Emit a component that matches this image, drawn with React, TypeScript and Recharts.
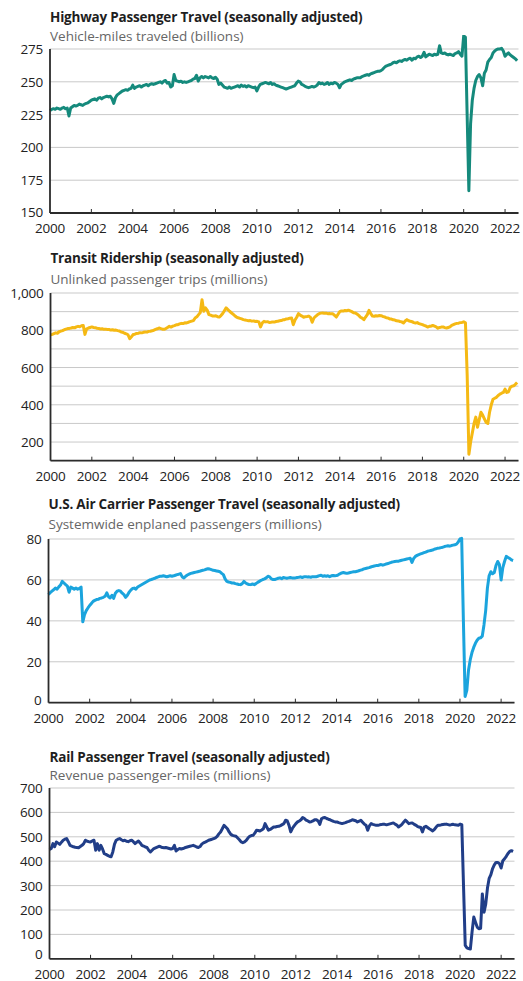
import { LineChart, Line, XAxis, YAxis, CartesianGrid } from 'recharts'

// monthly values, Jan 2000 .. Aug 2022
const highway = [
  228, 229, 229.5, 229, 230, 229.5, 229, 230, 230.5, 229.5, 230, 224,
  230, 231, 232, 231.5, 232, 233, 232.5, 232, 233, 233.5, 234, 235,
  236, 236.5, 237, 236, 237.5, 238, 237, 238, 238.5, 239, 238.5, 239,
  237, 233.5, 238, 240, 241, 242, 243, 243.5, 244, 243.5, 244.5, 245,
  247.5, 245, 246, 246.5, 247, 246, 247, 247.5, 248, 247, 248, 248.5,
  248, 248.5, 249, 249.5, 250, 249, 250.5, 251, 249, 249.5, 246, 247,
  255.5, 251, 250.5, 250, 250.5, 249.5, 250, 249.5, 250, 250.5, 251, 252,
  252.5, 255, 250.5, 253, 254, 253, 254, 253.5, 253, 254, 253, 252.5,
  253.5, 252, 248, 249, 247.5, 246, 245.5, 245, 246, 245, 245.5, 246,
  246.5, 247, 246, 247.5, 246.5, 247, 246, 247, 246.5, 246, 245.5, 246,
  243, 246, 248, 248.5, 249, 249.5, 249, 248.5, 249.5, 248, 248.5, 247.5,
  247, 246.5, 246, 245.5, 245, 244.5, 245, 245.5, 246, 246.5, 247, 249,
  250.5, 250, 248, 247.5, 246.5, 246, 245.5, 246, 246.5, 246, 246.5, 247.5,
  249.5, 248.5, 249, 248, 248.5, 249.5, 248, 249, 248.5, 249.5, 249, 248,
  245.5, 248, 249, 250, 250.5, 251, 251.5, 251, 252, 252.5, 253, 253,
  253, 254, 254.5, 255, 255.5, 255, 256, 256.5, 257, 257.5, 258, 258,
  258.5, 259.5, 261, 262, 262.5, 263, 263.5, 264.5, 265, 264.5, 265.5, 266,
  265.5, 266.5, 267, 266.5, 267.5, 268, 266.5, 268, 267.5, 269, 269.5, 268.5,
  269.5, 272.5, 269, 270, 271, 270.5, 270, 271, 270.5, 271, 277.5, 272,
  271.5, 272, 271, 270.5, 271, 270.5, 270, 271.5, 272, 273, 271, 269.5,
  285, 284, 225, 167, 218, 236, 245, 251, 254, 255.5, 253, 247,
  256.5, 259, 265, 267, 268.5, 272, 273.5, 274.5, 275, 275, 275.5, 273.5,
  269.5, 271, 272, 270.5, 269.5, 268.5, 267.5, 266,
]

const transit = [
  775, 778, 782, 786, 784, 792, 795, 798, 803, 806, 809, 810,
  812, 815, 813, 818, 821, 819, 824, 826, 778, 808, 812, 815,
  818, 815, 814, 811, 810, 807, 808, 805, 806, 804, 804, 801,
  803, 800, 801, 798, 796, 791, 789, 784, 781, 776, 755, 765,
  777, 779, 783, 784, 787, 786, 789, 791, 790, 794, 795, 797,
  800, 805, 808, 812, 809, 806, 805, 809, 815, 821, 817, 822,
  825, 829, 830, 834, 837, 836, 840, 839, 843, 846, 849, 852,
  866, 872, 884, 895, 964, 902, 920, 908, 884, 881, 877, 876,
  878, 873, 871, 879, 890, 905, 920, 911, 902, 894, 886, 878,
  871, 867, 864, 861, 857, 855, 853, 851, 852, 849, 850, 847,
  848, 845, 818, 840, 848, 845, 846, 842, 843, 845, 844, 847,
  848, 851, 852, 856, 857, 861, 862, 865, 866, 830, 855, 870,
  889, 881, 876, 870, 873, 874, 876, 869, 843, 866, 875, 883,
  889, 892, 893, 891, 892, 889, 890, 888, 888, 880, 871, 886,
  900, 904, 903, 906, 905, 908, 904, 900, 894, 893, 887, 880,
  870, 865, 857, 871, 884, 907, 889, 876, 875, 878, 877, 879,
  878, 874, 872, 867, 866, 861, 860, 856, 855, 851, 850, 847,
  845, 839, 850, 857, 851, 848, 846, 841, 839, 841, 836, 833,
  830, 826, 823, 817, 821, 822, 826, 822, 818, 811, 815, 817,
  818, 814, 812, 815, 818, 826, 830, 834, 837, 838, 841, 842,
  845, 840, 560, 135, 200, 250, 300, 334, 280, 320, 360, 345,
  325, 305, 300, 360, 400, 430, 435, 440, 450, 457, 462, 466,
  484, 466, 470, 493, 500, 502, 510, 520,
]

const air = [
  52.8, 53.8, 54.5, 55.2, 56, 55.5, 56.6, 57.5, 59.3, 58.5, 57.7, 57,
  54, 56.5, 56, 55.5, 56, 55.5, 55.8, 56.5, 39.5, 43, 45, 46.3,
  47.5, 48.5, 49.5, 50, 50.4, 50.5, 51, 51.2, 51.5, 52, 53.7, 51.8,
  51.2, 52.5, 51, 53.5, 54.5, 54.8, 54.5, 53.5, 52.8, 51.5, 52.5, 54,
  55, 55.8, 56, 55.5, 56.5, 57, 57.5, 58, 58.5, 59, 59.5, 60,
  60.2, 60.5, 60.8, 61.2, 61.5, 61.8, 61.8, 62, 61.8, 61.5, 61.8, 62,
  61.8, 62, 62.3, 62.6, 62.8, 63.1, 61.5, 61, 61.8, 62.4, 62.8, 63.2,
  63.4, 63.6, 63.8, 64, 64.2, 64.5, 64.7, 64.9, 65.2, 65.5, 65.3, 65,
  64.7, 64.6, 64.4, 64.2, 64, 63.2, 62.6, 60.5, 59.3, 59, 58.8, 58.5,
  58.5, 58.2, 58, 57.8, 57.7, 58.2, 59.3, 58.5, 58, 57.8, 57.7, 58,
  57.7, 58.2, 58.8, 59.3, 59.8, 60.2, 60.5, 61, 61.8, 61.5, 60.5, 60.2,
  60.2, 60.5, 60.8, 61, 60.6, 61.2, 61, 60.8, 61, 61.2, 61, 61,
  61, 61.2, 61.3, 61.5, 61.2, 61.5, 61.6, 61.4, 61.5, 61.3, 61.6, 61.5,
  61.5, 61.8, 62.1, 62.3, 61.8, 62, 61.8, 62, 61.6, 62, 62.2, 62,
  62.1, 62.5, 63, 63.4, 63.6, 63.4, 63.2, 63.4, 63.6, 63.8, 64, 64,
  64.2, 64.5, 64.8, 65, 65.4, 65.6, 65.8, 66, 66.3, 66.6, 66.8, 67,
  67, 67.3, 67.5, 67.2, 67.5, 67.8, 68, 68.3, 68.6, 68.8, 69, 69.1,
  69.1, 69.4, 69.6, 69.8, 70, 70.2, 70.4, 70.6, 68.6, 70.5, 71.5, 72,
  72.4, 72.7, 73, 73.3, 73.6, 74, 74.2, 74.4, 74.6, 75, 75.2, 75.5,
  75.6, 75.8, 76, 76.3, 76.5, 76.7, 76.5, 76.8, 77, 77.2, 77.5, 78.5,
  80, 80.3, 40, 3, 6, 16, 21, 24.5, 27, 29, 30.5, 31.5,
  31.7, 32.5, 38, 45, 56, 62, 64, 63, 63.6, 67, 69, 67.5,
  60, 66, 69, 71.5, 71, 70.5, 69.8, 69.5,
]

const rail = [
  448, 452, 472, 459, 479, 474, 469, 478, 486, 490, 493, 480,
  465, 462, 459, 457, 456, 455, 460, 465, 472, 486, 482, 480,
  479, 483, 486, 445, 472, 445, 465, 450, 431, 428, 424, 420,
  418, 438, 470, 486, 490, 493, 488, 484, 486, 482, 480, 484,
  486, 480, 472, 478, 483, 475, 465, 462, 458, 456, 445, 438,
  445, 452, 455, 458, 461, 459, 456, 455, 456, 454, 452, 450,
  452, 465, 442, 448, 452, 450, 452, 455, 457, 459, 461, 463,
  465, 462, 458, 456, 460, 470, 475, 478, 482, 486, 488, 490,
  493, 496, 502, 512, 520, 533, 547, 540, 533, 520, 510, 506,
  504, 502, 495, 488, 479, 476, 479, 485, 495, 502, 505, 506,
  515, 527, 526, 524, 528, 533, 554, 540, 527, 530, 535, 540,
  540, 542, 543, 546, 550, 554, 568, 565, 547, 520, 535, 545,
  554, 561, 565, 570, 579, 575, 568, 565, 561, 562, 565, 570,
  570, 565, 551, 574, 578, 579, 575, 572, 570, 566, 563, 561,
  561, 558, 556, 554, 556, 558, 561, 563, 566, 570, 568, 566,
  561, 564, 568, 560, 552, 547, 527, 545, 554, 551, 549, 547,
  547, 549, 550, 552, 551, 549, 551, 553, 555, 557, 552, 548,
  540, 545, 551, 560, 568, 562, 554, 556, 557, 552, 548, 543,
  540, 538, 520, 540, 543, 538, 533, 529, 524, 530, 540, 547,
  547, 549, 550, 551, 552, 550, 548, 550, 551, 549, 548, 547,
  552, 550, 300, 55, 45, 42, 40, 110, 171, 150, 130, 123,
  125, 266, 191, 225, 290, 330, 345, 370, 385, 395, 395, 390,
  372, 402, 410, 420, 432, 440, 443, 440,
]

const yearTicks = [2000, 2002, 2004, 2006, 2008, 2010, 2012, 2014, 2016, 2018, 2020, 2022]
const highwayTicks = [150, 175, 200, 225, 250, 275]
const transitTicks = [100, 200, 300, 400, 500, 600, 700, 800, 900, 1000]
const transitLabels = [200, 400, 600, 800, 1000]
const airTicks = [0, 20, 40, 60, 80]
const railTicks = [0, 100, 200, 300, 400, 500, 600, 700]

const font = '"Open Sans", "Noto Sans", sans-serif'
const axisColor = '#2b2b2b'
const tickStyle = { fontFamily: font, fontSize: 13.5, fill: '#222', letterSpacing: -0.2 }

function toRows(values: number[]) {
  return values.map((v, i) => ({ t: 2000 + i / 12, v }))
}

interface PanelProps {
  title: string
  subtitle: string
  values: number[]
  color: string
  domain: [number, number]
  ticks: number[]
  labels?: number[]
  titleY: number
  subY: number
  plotTop: number
  plotBottom: number
  plotLeft: number
  plotRight: number
  zeroShift?: number
}

function Panel(p: PanelProps) {
  const padTop = 14
  const padBottom = 30
  const height = p.plotBottom - p.plotTop + padTop + padBottom
  const labels = p.labels ?? p.ticks

  const xTick = ({ x, y, payload }: any) => (
    <g>
      {payload.value !== 2000 && <line x1={x} x2={x} y1={y} y2={y - 4} stroke={axisColor} strokeWidth={1} />}
      <text x={x} y={y + 15} textAnchor="middle" dominantBaseline="central" style={tickStyle}>{payload.value}</text>
    </g>
  )

  const yTick = ({ x, y, payload }: any) => {
    if (!labels.includes(payload.value)) return <g />
    const shift = payload.value === p.domain[0] ? (p.zeroShift ?? 0) : 0
    return (
      <text x={x} y={y + shift} textAnchor="end" dominantBaseline="central" style={tickStyle}>
        {payload.value.toLocaleString('en-US')}
      </text>
    )
  }

  return (
    <>
      <div style={{ position: 'absolute', left: p.plotLeft, top: p.titleY - 10, lineHeight: '20px', fontFamily: font, fontSize: 13.5, fontWeight: 700, color: '#1e1e1e', letterSpacing: -0.2, whiteSpace: 'nowrap' }}>
        {p.title}
      </div>
      <div style={{ position: 'absolute', left: p.plotLeft, top: p.subY - 10, lineHeight: '20px', fontFamily: font, fontSize: 13.5, color: '#666', whiteSpace: 'nowrap' }}>
        {p.subtitle}
      </div>
      <div style={{ position: 'absolute', left: 0, top: p.plotTop - padTop }}>
        <LineChart width={523} height={height} data={toRows(p.values)}
          margin={{ top: padTop, right: 523 - p.plotRight, bottom: padBottom - 20, left: 0 }}>
          <CartesianGrid vertical={false} stroke="#c9c9c9" strokeWidth={1} />
          <XAxis dataKey="t" type="number" domain={[2000, 2022.65]} ticks={yearTicks} interval={0}
            allowDataOverflow height={20} tickSize={0} tickMargin={0} tick={xTick}
            axisLine={{ stroke: axisColor, strokeWidth: 1.8 }} tickLine={false} />
          <YAxis type="number" domain={p.domain} ticks={p.ticks} interval={0} allowDataOverflow
            width={p.plotLeft} tickSize={0} tickMargin={7} tick={yTick}
            axisLine={{ stroke: axisColor, strokeWidth: 1.8 }} tickLine={false} />
          <Line dataKey="v" type="linear" stroke={p.color} strokeWidth={3} dot={false}
            strokeLinejoin="round" isAnimationActive={false} />
        </LineChart>
      </div>
    </>
  )
}

export default function App() {
  return (
    <div style={{ position: 'absolute', left: 0, top: 0, width: 523, height: 981, background: '#fff' }}>
      <style>{'.recharts-wrapper [clip-path]{clip-path:none !important}'}</style>
      <Panel title="Highway Passenger Travel (seasonally adjusted)" subtitle="Vehicle-miles traveled (billions)"
        values={highway} color="#158a7c" domain={[150, 275]} ticks={highwayTicks}
        titleY={17} subY={36} plotTop={49.3} plotBottom={213.3} plotLeft={50} plotRight={518.5} zeroShift={-1} />
      <Panel title="Transit Ridership (seasonally adjusted)" subtitle="Unlinked passenger trips (millions)"
        values={transit} color="#f5b914" domain={[100, 1000]} ticks={transitTicks} labels={transitLabels}
        titleY={258} subY={279} plotTop={293.3} plotBottom={461} plotLeft={50.5} plotRight={518.5} />
      <Panel title="U.S. Air Carrier Passenger Travel (seasonally adjusted)" subtitle="Systemwide enplaned passengers (millions)"
        values={air} color="#1ba4dd" domain={[0, 80]} ticks={airTicks}
        titleY={504} subY={524} plotTop={539.3} plotBottom={703} plotLeft={48.5} plotRight={514.5} zeroShift={-3} />
      <Panel title="Rail Passenger Travel (seasonally adjusted)" subtitle="Revenue passenger-miles (millions)"
        values={rail} color="#213e88" domain={[0, 700]} ticks={railTicks}
        titleY={757} subY={775} plotTop={787.5} plotBottom={958.3} plotLeft={49.5} plotRight={514.5} zeroShift={-5} />
    </div>
  )
}
